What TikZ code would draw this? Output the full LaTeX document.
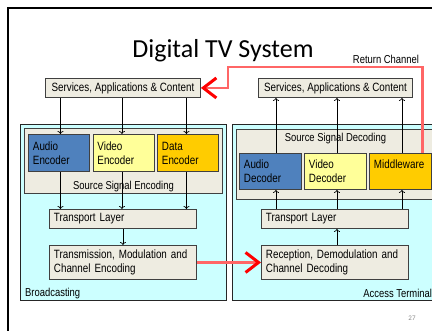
\documentclass[tikz,border=0pt]{standalone}
\usepackage{fontspec}
\setmainfont{Carlito}
\newfontfamily\narrowfont[FakeStretch=0.82]{Liberation Sans}
\usetikzlibrary{arrows.meta,calc}

\definecolor{beige}{HTML}{EEECE1}
\definecolor{aqua}{HTML}{CCFFFF}
\definecolor{audioblue}{HTML}{4F81BD}
\definecolor{videoyellow}{HTML}{FFFF99}
\definecolor{datagold}{HTML}{FFCC00}
\definecolor{retred}{HTML}{FF6666}

\tikzset{
  blk/.style={draw=black!75, line width=0.9pt, fill=beige, inner xsep=4.5pt, inner ysep=0pt,
    anchor=north west, align=left, font=\narrowfont\fontsize{12}{14}\selectfont},
  area/.style={draw=black!85, line width=1.2pt, fill=aqua, anchor=north west, inner sep=0pt,
    minimum width=206pt, minimum height=176pt},
  flow/.style={-{To[length=3pt,width=6pt]}, line width=0.7pt},
  retline/.style={draw=retred, line width=2.8pt,
    -{Straight Barb[length=13pt,width=20pt,line width=3pt,color=red]}},
  lbl/.style={font=\narrowfont\fontsize{11.5}{14}\selectfont, inner sep=0pt},
}

\begin{document}
\begin{tikzpicture}[x=1pt,y=-1pt]
\useasboundingbox (0,0) rectangle (432,331);
\clip (0,0) rectangle (432,331);
\fill[white] (0,0) rectangle (432,331);
\draw[line width=1.5pt] (8,8) rectangle (445,345);

\node (title) [anchor=base, font=\fontsize{26}{30}\selectfont] at (223,58) {Digital TV System};
\node (rclbl) [lbl] at (386,59) {Return Channel};

% top boxes
\node (sacL) [blk, align=center, minimum width=155pt, minimum height=19pt] at (45,78) {Services, Applications \& Content};
\node (sacR) [blk, align=center, minimum width=154pt, minimum height=19pt] at (258,78) {Services, Applications \& Content};

% the two sides
\node (bcast) [area] at (20,124) {};
\node (term) [area] at (232,124) {};
\node (sse) [blk, minimum width=198pt, minimum height=65pt] at (24,128) {};
\node (ssd) [blk, minimum width=198pt, minimum height=70pt] at (236,129) {};
\node (sselbl) [lbl, anchor=base] at ($(sse.south)+(0,-4)$) {Source Signal Encoding};
\node (ssdlbl) [lbl] at ($(ssd.north)+(0,10)$) {Source Signal Decoding};

\foreach \name/\xpos/\col/\txt in {encA/28/audioblue/{Audio\\Encoder}, encV/92.5/videoyellow/{Video\\Encoder}, encD/157/datagold/{Data\\Encoder}}
  \node (\name) [blk, fill=\col, text width=52pt, minimum height=37pt] at (\xpos,134) {\txt};
\foreach \name/\xpos/\col/\txt in {decA/239/audioblue/{Audio\\Decoder}, decV/304/videoyellow/{Video\\Decoder}, midw/369/datagold/{Middleware\\\mbox{}}}
  \node (\name) [blk, fill=\col, text width=53pt, minimum height=36pt] at (\xpos,153) {\txt};

\node (tlL) [blk, text width=138pt, minimum height=19pt] at (49,209) {Transport Layer};
\node (txL) [blk, text width=138pt, minimum height=34pt] at (49,245) {Transmission, Modulation and\\Channel Encoding};
\node (tlR) [blk, text width=138pt, minimum height=19pt] at (261,209) {Transport Layer};
\node (rxR) [blk, text width=138pt, minimum height=34pt] at (261,245) {Reception, Demodulation and\\Channel Decoding};

\node (bclbl) [lbl, anchor=west] at ($(bcast.south west)+(5,-8)$) {Broadcasting};
\node (atlbl) [lbl, anchor=east] at ($(term.south east)+(-7,-8)$) {Access Terminal};
\node (pgno) [font=\fontsize{7}{8}\selectfont, text=black!45] at (412,318) {27};

% signal flow
\foreach \e/\dx in {encA/1.5, encV/-1.5, encD/-1.5} {
  \draw[flow] ([xshift=\dx pt]\e.north |- sacL.south) -- ([xshift=\dx pt]\e.north);
  \draw[flow] ([xshift=\dx pt]\e.south) -- ([xshift=\dx pt]\e.south |- tlL.north);
}
\draw[flow] (tlL.south) -- (txL.north);
\foreach \d/\dx in {decA/5.5, decV/1.5, midw/1.5} {
  \draw[flow] ([xshift=\dx pt]\d.north) -- ([xshift=\dx pt]\d.north |- sacR.south);
  \draw[flow] ([xshift=\dx pt]\d.south |- tlR.north) -- ([xshift=\dx pt]\d.south);
}
\draw[flow] ([xshift=2pt]rxR.north) -- ([xshift=2pt]tlR.south);

% return channel and broadcast link
\coordinate (rcbend) at (228,67);
\draw[retline] ([xshift=-9.5pt]midw.north east) |- (rcbend) |- (sacL.east);
\draw[retline] (txL.east) -- (rxR.west);
\end{tikzpicture}
\end{document}
